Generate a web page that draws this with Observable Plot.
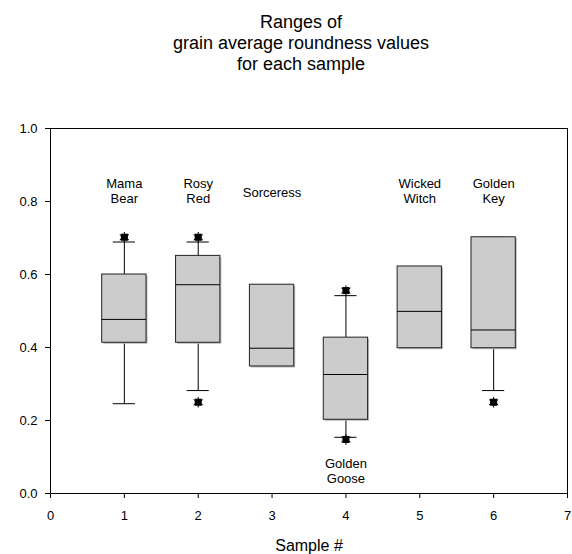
<!DOCTYPE html>
<html>
<head>
<meta charset="utf-8">
<script src="https://cdn.jsdelivr.net/npm/d3@7"></script>
<script src="https://cdn.jsdelivr.net/npm/@observablehq/plot@0.6"></script>
<style>
  html, body { margin: 0; padding: 0; background: #fff; }
  body { width: 572px; height: 554px; overflow: hidden; font-family: "Liberation Sans", Arial, sans-serif; }
  #title { height: 80px; box-sizing: border-box; padding-top: 12px; padding-left: 30px; text-align: center;
           font-size: 18px; line-height: 21px; color: #000; }
</style>
</head>
<body>
<div id="title">Ranges of<br>grain average roundness values<br>for each sample</div>
<div id="chart"></div>
<script>
// ---- data ----
const samples     = [1, 2, 3, 4, 5, 6];
const sampleNames = ["Mama\nBear", "Rosy\nRed", "Sorceress", "Golden\nGoose", "Wicked\nWitch", "Golden\nKey"];
const nameY       = [0.83, 0.83, 0.825, 0.062, 0.83, 0.83];
const q1          = [0.413, 0.413, 0.348, 0.202, 0.398, 0.398];
const median      = [0.477, 0.572, 0.398, 0.326, 0.499, 0.448];
const q3          = [0.600, 0.651, 0.572, 0.427, 0.622, 0.702];
const whiskerLow  = [0.246, 0.282, null, 0.154, null, 0.282];
const whiskerHigh = [0.689, 0.689, null, 0.542, null, 0.702];
const outlierSample = [1, 2, 2, 4, 4, 6];
const outlierValue  = [0.702, 0.702, 0.250, 0.556, 0.148, 0.250];
const xTicks = [0, 1, 2, 3, 4, 5, 6, 7];
const yTicks = [0, 0.2, 0.4, 0.6, 0.8, 1.0];

// ---- tables built from the arrays ----
const boxes = samples.map((s, i) => ({
  s, name: sampleNames[i], ny: nameY[i], q1: q1[i], med: median[i], q3: q3[i],
  lo: whiskerLow[i], hi: whiskerHigh[i]
}));
const whiskered = boxes.filter(d => d.lo != null);
const outliers = outlierSample.map((s, i) => ({s, v: outlierValue[i]}));

const HALF = 0.3, CAP = 0.15;

const chart = Plot.plot({
  width: 572,
  height: 474,
  marginTop: 48,
  marginBottom: 61,
  marginLeft: 50,
  marginRight: 5,
  style: {fontFamily: "Liberation Sans, Arial, sans-serif", fontSize: "13px", color: "#000", background: "#fff"},
  x: {domain: [0, 7]},
  y: {domain: [0, 1]},
  marks: [
    Plot.frame({stroke: "#000", strokeWidth: 1}),
    Plot.axisX({ticks: xTicks, tickFormat: d3.format("d"), tickSize: 5, tickPadding: 12, label: null, fontSize: 13}),
    Plot.axisY({ticks: yTicks, tickFormat: d3.format(".1f"), tickSize: 5, tickPadding: 8, label: null, fontSize: 13}),
    Plot.text(["Sample #"], {frameAnchor: "bottom", dy: 57, fontSize: 16}),
    // whiskers
    Plot.ruleX(whiskered, {x: "s", y1: "q3", y2: "hi", stroke: "#000"}),
    Plot.ruleX(whiskered, {x: "s", y1: "lo", y2: "q1", stroke: "#000"}),
    Plot.ruleY(whiskered, {y: "hi", x1: d => d.s - CAP, x2: d => d.s + CAP, stroke: "#000"}),
    Plot.ruleY(whiskered, {y: "lo", x1: d => d.s - CAP, x2: d => d.s + CAP, stroke: "#000"}),
    // box shadow
    Plot.rect(boxes, {x1: d => d.s - HALF, x2: d => d.s + HALF, y1: "q1", y2: "q3", fill: "#b8b8b8", dx: 1.5, dy: 1.5}),
    // boxes
    Plot.rect(boxes, {x1: d => d.s - HALF, x2: d => d.s + HALF, y1: "q1", y2: "q3", fill: "#cccccc", stroke: "#222", strokeWidth: 1}),
    Plot.ruleY(boxes, {y: "med", x1: d => d.s - HALF, x2: d => d.s + HALF, stroke: "#000"}),
    // outliers
    Plot.dot(outliers, {x: "s", y: "v", symbol: "square", r: 4, fill: "#000", stroke: "none"}),
    Plot.dot(outliers, {x: "s", y: "v", symbol: "asterisk", r: 5, stroke: "#000", strokeWidth: 1}),
    // sample names
    Plot.text(boxes, {x: "s", y: "ny", text: "name", fontSize: 13, lineHeight: 1.15, fill: "#000"})
  ]
});
document.getElementById("chart").appendChild(chart);
</script>
</body>
</html>
